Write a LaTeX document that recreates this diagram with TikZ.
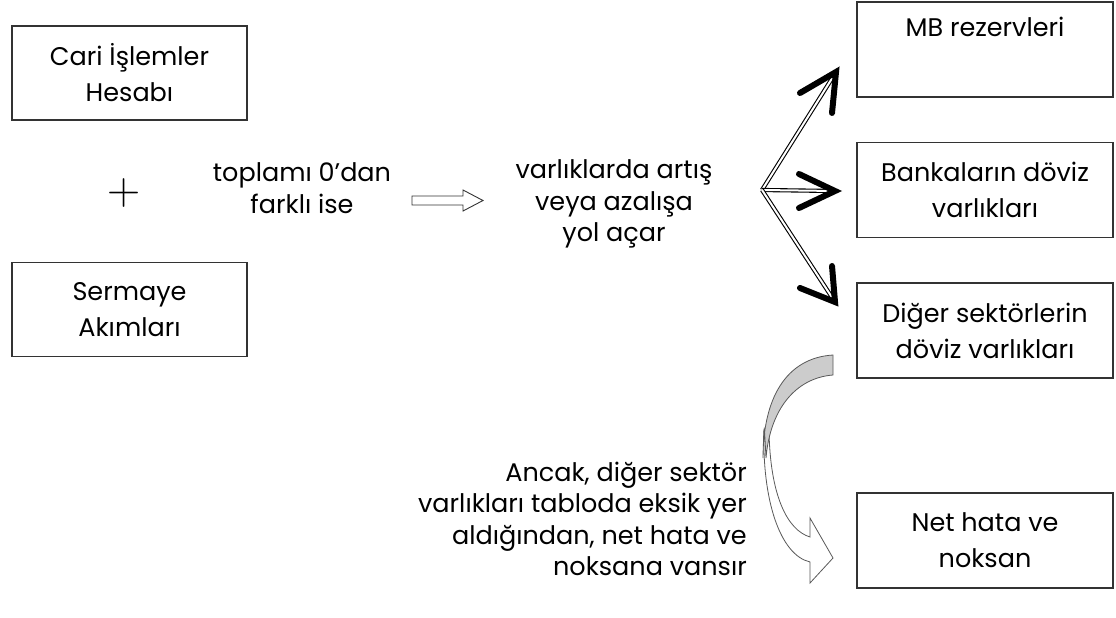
\documentclass[tikz,border=0pt]{standalone}
\usepackage{fontspec}
\setmainfont{Poppins}
\newfontfamily\lmr{Latin Modern Roman}
\newcommand\fsbox{\fontsize{25.5}{36}\selectfont}
\newcommand\fstxt{\fontsize{25.5}{31.5}\selectfont}
\begin{document}
\begin{tikzpicture}[x=1pt,y=-1pt,
  box/.style={draw=black!80,line width=1.4pt,minimum width=256pt,minimum height=95pt,align=center,inner sep=0pt,font=\fsbox},
  txt/.style={align=center,font=\fstxt,inner sep=0pt},
  shaft/.style={draw=black,line width=1.1pt,double=white,double distance=2pt,shorten >=3pt},
  chev/.style={draw=black,line width=6pt,line cap=round,line join=miter},
  outl/.style={draw=black!65,line width=0.8pt}]
\useasboundingbox (0,0) rectangle (1116,618);
% left boxes
\node[box,minimum width=235pt,minimum height=94pt] (cari) at (129.5,73) {Cari İşlemler\\Hesabı};
\node[box,minimum width=235pt,minimum height=94pt] (serm) at (129.5,309.5) {Sermaye\\Akımları};
\node[inner sep=0pt] (plus) at (124,193) {\lmr\fontsize{46}{46}\selectfont +};
\node[txt] (sum) at (302,188) {toplamı 0’dan\\farklı ise};
\node[txt] (res) at (614,204) {varlıklarda artış\\veya azalışa\\yol açar};
% block arrow
\draw[draw=black!80,line width=0.9pt,fill=white] (412,196) -- (463,196) -- (463,190) -- (483,200.5) -- (463,211) -- (463,205) -- (412,205) -- cycle;
% right boxes
\node[box] (mb) at (985,49.5) {};
\node[txt,anchor=north] (mbt) at (985,17) {MB rezervleri};
\node[box] (bank) at (985,190) {Bankaların döviz\\varlıkları};
\node[box] (diger) at (985,330.5) {Diğer sektörlerin\\döviz varlıkları};
\node[box] (net) at (985,540.5) {Net hata ve\\noksan};
% double arrows
\coordinate (o) at (762,190);
\coordinate (t1) at (836,72);
\coordinate (t2) at (835,191);
\coordinate (t3) at (835,302);
\draw[shaft] (o) -- (t1);
\draw[shaft] (o) -- (t2);
\draw[shaft] (o) -- (t3);
\draw[chev] (800,93) -- (t1) -- (832,113);
\draw[chev] (799,174) -- (t2) -- (799,208);
\draw[chev] (800,288) -- (t3) -- (832,266);
% curved arrow
\draw[outl,fill=white] (764,430) .. controls (762,500) and (780,555) .. (810,562)
  -- (810,583) -- (833,558) -- (810,518) -- (810,537)
  .. controls (787,530) and (770,495) .. (769,430) -- cycle;
\draw[outl,fill=black!20] (833,355) -- (833,375) .. controls (795,378) and (770,410) .. (766,458)
  .. controls (764,420) and (764,420) .. (763,458)
  .. controls (763,400) and (785,358) .. (833,355) -- cycle;
\node[txt,align=right,anchor=east] (anc) at (747,519) {Ancak, diğer sektör\\varlıkları tabloda eksik yer\\aldığından, net hata ve\\noksana vansır};
\end{tikzpicture}
\end{document}
